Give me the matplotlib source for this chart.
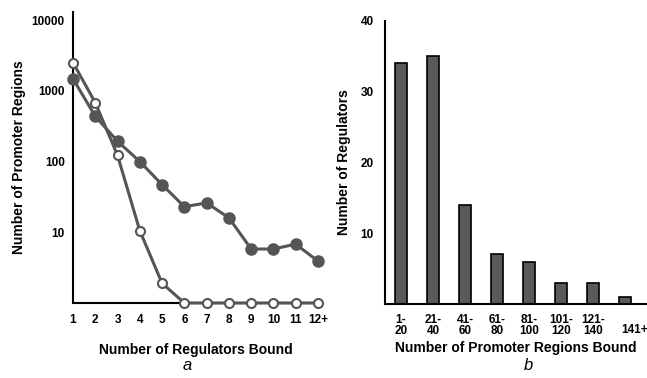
import matplotlib.pyplot as plt
from matplotlib.transforms import ScaledTranslation

# panel a: promoter regions vs number of regulators bound
regulators = ["1", "2", "3", "4", "5", "6", "7", "8", "9", "10", "11", "12+"]
observed = [1480, 436, 193, 100, 47, 23, 26, 16, 5.8, 5.8, 6.8, 3.9]
randomized = [2500, 680, 122, 10.5, 1.9, 1, 1, 1, 1, 1, 1, 1]

# panel b: regulators vs number of promoter regions bound
bins = ["1-\n20", "21-\n40", "41-\n60", "61-\n80", "81-\n100",
        "101-\n120", "121-\n140", "141+"]
n_regulators = [34, 35, 14, 7, 6, 3, 3, 1]

plt.rcParams["font.family"] = ["Liberation Sans", "DejaVu Sans"]
plt.rcParams["font.weight"] = "bold"
plt.rcParams["axes.labelweight"] = "bold"

GRAY = "#555555"
W, H = 647, 378

fig = plt.figure(figsize=(6.47, 3.78), dpi=100)
ax1 = fig.add_axes([73 / W, 1 - 303 / H, (318 - 73) / W, (303 - 12) / H])
ax2 = fig.add_axes([385 / W, 1 - 304 / H, (646 - 385) / W, (304 - 21) / H])

for ax in (ax1, ax2):
    for s in ("top", "right"):
        ax.spines[s].set_visible(False)
    for s in ("left", "bottom"):
        ax.spines[s].set_linewidth(1.5)
    ax.tick_params(length=0, labelsize=8.5)

# --- a ---
x = list(range(1, len(regulators) + 1))
ax1.plot(x, observed, "-o", color=GRAY, lw=2.2, ms=8, mfc=GRAY, mec=GRAY,
         clip_on=False, zorder=3)
ax1.plot(x, randomized, "-o", color=GRAY, lw=2.2, ms=6.5, mfc="white", mec=GRAY,
         mew=1.5, clip_on=False, zorder=4)
ax1.set_yscale("log")
ax1.set_ylim(1, 13000)
ax1.set_xlim(1, 12)
ax1.set_yticks([10, 100, 1000, 10000])
ax1.set_yticklabels(["10", "100", "1000", "10000"])
ax1.minorticks_off()
ax1.set_xticks(x)
ax1.set_xticklabels(regulators)
ax1.tick_params(axis="x", pad=8)
ax1.tick_params(axis="y", pad=6)
ax1.set_xlabel("Number of Regulators Bound", fontsize=10, labelpad=12)
ax1.set_ylabel("Number of Promoter Regions", fontsize=10, labelpad=4)
fig.text(187 / W, 1 - 366 / H, "a", fontsize=12, style="italic",
         weight="normal", ha="center", va="center")

# --- b ---
pos = list(range(len(bins)))
ax2.bar(pos, n_regulators, width=0.38, color="#5a5a5a", edgecolor="black",
        linewidth=1.2)
ax2.set_xlim(-0.5, 7.65)
ax2.set_ylim(0, 40)
ax2.set_yticks([10, 20, 30, 40])
ax2.set_xticks(pos)
ax2.set_xticklabels(bins, linespacing=0.9)
ax2.tick_params(axis="x", pad=7)
ax2.tick_params(axis="y", pad=8)
last = ax2.get_xticklabels()[-1]
last.set_transform(last.get_transform() +
                   ScaledTranslation(9 / 100, -10 / 100, fig.dpi_scale_trans))
ax2.set_xlabel("Number of Promoter Regions Bound", fontsize=10, labelpad=3)
ax2.set_ylabel("Number of Regulators", fontsize=10, labelpad=7)
fig.text(528 / W, 1 - 366 / H, "b", fontsize=12, style="italic",
         weight="normal", ha="center", va="center")

plt.savefig("out.png", dpi=100)
plt.close()
